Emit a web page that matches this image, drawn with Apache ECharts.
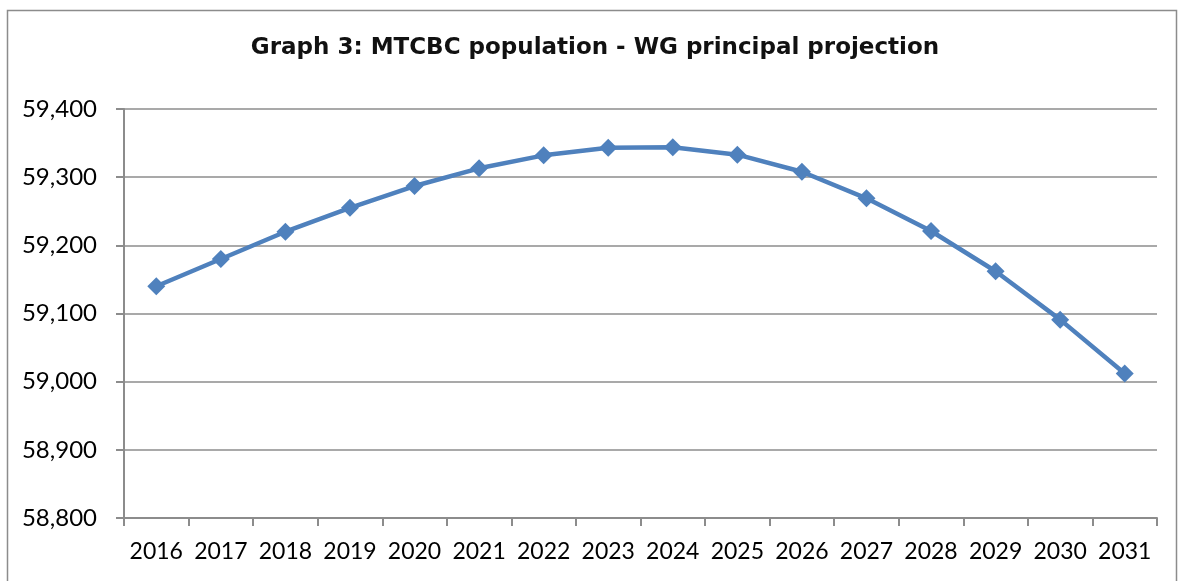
<!doctype html>
<html>
<head>
<meta charset="UTF-8">
<title>Graph 3</title>
<script src="https://cdn.jsdelivr.net/npm/echarts@6/dist/echarts.min.js"></script>
<style>
  html, body { margin: 0; padding: 0; background: #fff; }
  #main { width: 1182px; height: 581px; }
</style>
</head>
<body>
<div id="main"></div>
<script>
// data
var years = ['2016','2017','2018','2019','2020','2021','2022','2023','2024','2025','2026','2027','2028','2029','2030','2031'];
var population = [59140, 59180, 59220, 59255, 59287, 59313, 59332, 59343, 59344, 59333, 59308, 59269, 59221, 59162, 59091, 59012];
var yMin = 58800, yMax = 59400, yStep = 100;

var chart = echarts.init(document.getElementById('main'));
var option = {
    animation: false,
    title: {
        text: 'Graph 3: MTCBC population - WG principal projection',
        left: 590,
        textAlign: 'center',
        top: 32,
        textStyle: { fontFamily: 'DejaVu Sans', fontWeight: 'bold', fontSize: 23, color: '#111' }
    },
    graphic: [{
        type: 'rect',
        shape: { x: 7.5, y: 10.5, width: 1169, height: 620 },
        style: { fill: 'none', stroke: '#8c8c8c', lineWidth: 1.5 },
        silent: true
    }],
    grid: { left: 124, right: 25, top: 109, bottom: 63 },
    xAxis: {
        type: 'category',
        data: years,
        boundaryGap: true,
        axisLine: { lineStyle: { color: '#8c8c8c', width: 2 } },
        axisTick: { show: true, interval: 0, length: 8, lineStyle: { color: '#8c8c8c', width: 2 } },
        axisLabel: { interval: 0, color: '#000', fontFamily: 'Lato', fontSize: 23, margin: 22 }
    },
    yAxis: {
        type: 'value',
        min: yMin,
        max: yMax,
        interval: yStep,
        axisLine: { show: true, lineStyle: { color: '#8c8c8c', width: 2 } },
        axisTick: { show: true, length: 8, lineStyle: { color: '#8c8c8c', width: 2 } },
        splitLine: { lineStyle: { color: '#8c8c8c', width: 1.5 } },
        axisLabel: {
            color: '#000', fontFamily: 'Lato', fontSize: 24, margin: 27,
            formatter: function (v) { return v.toLocaleString('en-US'); }
        }
    },
    series: [{
        type: 'line',
        data: population,
        symbol: 'diamond',
        symbolSize: 18,
        lineStyle: { color: '#4F81BD', width: 4.5 },
        itemStyle: { color: '#4F81BD' }
    }]
};
chart.setOption(option);
</script>
</body>
</html>
